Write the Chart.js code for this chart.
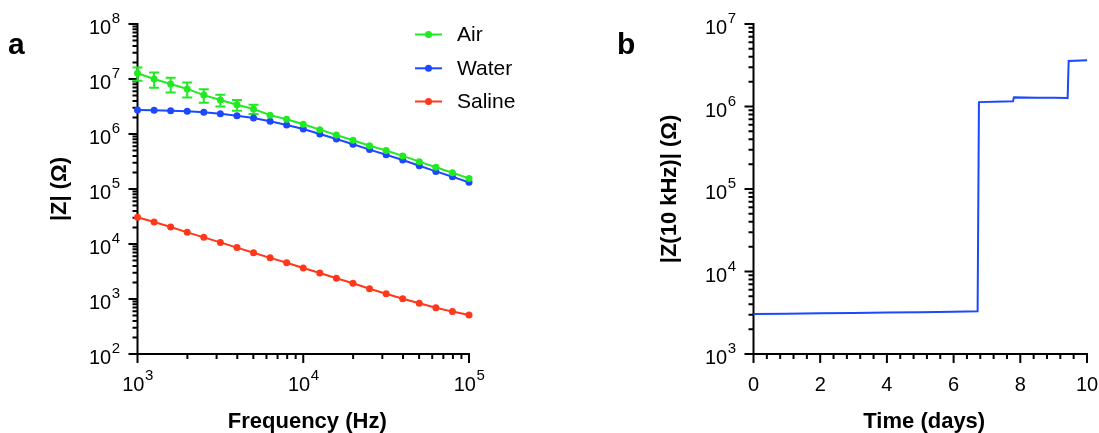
<!DOCTYPE html>
<html>
<head>
<meta charset="utf-8">
<script src="https://cdn.jsdelivr.net/npm/chart.js@4/dist/chart.umd.min.js"></script>
<style>
  body { margin: 0; background: #fff; }
  #wrap { position: relative; width: 1099px; height: 433px; }
  canvas { position: absolute; top: 0; }
  #chartA { left: 0; }
  #chartB { left: 560px; }
</style>
</head>
<body>
<div id="wrap">
  <canvas id="chartA" width="560" height="433"></canvas>
  <canvas id="chartB" width="539" height="433"></canvas>
</div>
<script>
// panel a - impedance spectra
var freq = [1000, 1259, 1585, 1995, 2512, 3162, 3981, 5012, 6310, 7943, 10000,
            12589, 15849, 19953, 25119, 31623, 39811, 50119, 63096, 79433, 100000];
var air = [1.27e7, 1.0e7, 8.1e6, 6.6e6, 5.1e6, 4.15e6, 3.4e6, 2.85e6, 2.2e6, 1.85e6, 1.5e6,
           1.2e6, 9.6e5, 7.7e5, 6.1e5, 5.0e5, 4.0e5, 3.14e5, 2.48e5, 1.98e5, 1.56e5];
var airSd = [3.4e6, 3.1e6, 2.4e6, 2.0e6, 1.4e6, 1.0e6, 7.5e5, 5.4e5, 2.2e5, 1.1e5, 8e4,
             6e4, 4e4, 3e4, 2e4, 1.5e4, 1.2e4, 9e3, 7e3, 5e3, 4e3];
var water = [2.73e6, 2.69e6, 2.65e6, 2.58e6, 2.48e6, 2.34e6, 2.15e6, 1.95e6, 1.70e6, 1.46e6, 1.23e6,
             1.0e6, 8.1e5, 6.5e5, 5.2e5, 4.2e5, 3.37e5, 2.65e5, 2.09e5, 1.67e5, 1.32e5];
var saline = [3.06e4, 2.51e4, 2.04e4, 1.63e4, 1.32e4, 1.07e4, 8.6e3, 6.95e3, 5.6e3, 4.57e3, 3.66e3,
              2.97e3, 2.38e3, 1.93e3, 1.54e3, 1.25e3, 1.01e3, 835, 695, 590, 510];
var freqTicks = [1e3, 1e4, 1e5];
var zTicks = [1e2, 1e3, 1e4, 1e5, 1e6, 1e7, 1e8];

// panel b - |Z| at 10 kHz over time
var days = [0, 1, 2, 3, 4, 5, 6, 6.72, 6.76, 7.2, 7.78, 7.81, 8.5, 9.0, 9.42, 9.45, 10];
var z10k = [3.05e3, 3.08e3, 3.12e3, 3.15e3, 3.18e3, 3.21e3, 3.25e3, 3.29e3, 1.13e6, 1.14e6, 1.16e6,
            1.29e6, 1.28e6, 1.28e6, 1.27e6, 3.56e6, 3.63e6];
var dayTicks = [0, 2, 4, 6, 8, 10];
var z10kTicks = [1e3, 1e4, 1e5, 1e6, 1e7];

var FONT = 'Arial, "Liberation Sans", sans-serif';
var GREEN = 'rgb(34,234,34)', BLUE = 'rgb(28,72,255)', RED = 'rgb(255,56,28)';

function pts(xs, ys) {
  var out = [];
  for (var i = 0; i < xs.length; i++) out.push({x: xs[i], y: ys[i]});
  return out;
}

function logMinor(ticks) {
  var out = [];
  for (var i = 0; i < ticks.length - 1; i++)
    for (var m = 2; m <= 9; m++) out.push(ticks[i] * m);
  return out;
}

// "10" with exponent; align 'center' or 'right'
function drawPow(ctx, exp, x, y, align) {
  ctx.font = '20px ' + FONT;
  var w1 = ctx.measureText('10').width;
  ctx.font = '15px ' + FONT;
  var w2 = ctx.measureText(exp).width;
  var x0 = align === 'right' ? x - w1 - w2 : x - (w1 + w2) / 2;
  ctx.textAlign = 'left';
  ctx.textBaseline = 'alphabetic';
  ctx.font = '20px ' + FONT;
  ctx.fillText('10', x0, y);
  ctx.font = '15px ' + FONT;
  ctx.fillText(exp, x0 + w1 + 0.5, y - 11);
}

var deco = {
  id: 'deco',
  beforeDatasetsDraw: function(chart, args, o) {
    var ctx = chart.ctx, a = chart.chartArea;
    var xs = chart.scales.x, ys = chart.scales.y;
    ctx.save();
    ctx.strokeStyle = '#000';
    ctx.fillStyle = '#000';
    ctx.lineWidth = 2;
    ctx.lineCap = 'square';
    ctx.beginPath();
    ctx.moveTo(a.left, a.top); ctx.lineTo(a.left, a.bottom); ctx.lineTo(a.right, a.bottom);
    ctx.stroke();
    ctx.lineCap = 'butt';
    ctx.beginPath();
    o.xMajor.forEach(function(v) {
      var px = xs.getPixelForValue(v);
      ctx.moveTo(px, a.bottom); ctx.lineTo(px, a.bottom + 9);
    });
    o.xMinor.forEach(function(v) {
      var px = xs.getPixelForValue(v);
      ctx.moveTo(px, a.bottom); ctx.lineTo(px, a.bottom + 5);
    });
    o.yMajor.forEach(function(v) {
      var py = ys.getPixelForValue(v);
      ctx.moveTo(a.left, py); ctx.lineTo(a.left - 9, py);
    });
    o.yMinor.forEach(function(v) {
      var py = ys.getPixelForValue(v);
      ctx.moveTo(a.left, py); ctx.lineTo(a.left - 5, py);
    });
    ctx.stroke();

    // tick labels
    o.xMajor.forEach(function(v) {
      var px = xs.getPixelForValue(v);
      if (o.xLog) {
        drawPow(ctx, String(Math.round(Math.log10(v))), px, a.bottom + 37, 'center');
      } else {
        ctx.font = '20px ' + FONT;
        ctx.textAlign = 'center';
        ctx.textBaseline = 'alphabetic';
        ctx.fillText(String(v), px, a.bottom + 37);
      }
    });
    o.yMajor.forEach(function(v) {
      var py = ys.getPixelForValue(v);
      drawPow(ctx, String(Math.round(Math.log10(v))), a.left - 18, py + 10, 'right');
    });

    // axis titles
    ctx.font = 'bold 22px ' + FONT;
    ctx.textAlign = 'center';
    ctx.textBaseline = 'alphabetic';
    ctx.fillText(o.xTitle, (a.left + a.right) / 2 + 4, 428);
    ctx.save();
    ctx.translate(o.yTitleX, (a.top + a.bottom) / 2);
    ctx.rotate(-Math.PI / 2);
    ctx.fillText(o.yTitle, 0, 0);
    ctx.restore();

    // panel letter
    ctx.font = 'bold 30px ' + FONT;
    ctx.textAlign = 'left';
    ctx.fillText(o.letter, o.letterX, 54);

    // error bars
    if (o.err) {
      var meta = chart.getDatasetMeta(o.err.dataset);
      var ds = chart.data.datasets[o.err.dataset];
      ctx.strokeStyle = ds.borderColor;
      ctx.lineWidth = 2;
      ctx.beginPath();
      for (var i = 0; i < o.err.sd.length; i++) {
        var p = ds.data[i];
        var px = xs.getPixelForValue(p.x);
        var hi = ys.getPixelForValue(p.y + o.err.sd[i]);
        var lo = ys.getPixelForValue(p.y - o.err.sd[i]);
        var c = ys.getPixelForValue(p.y);
        if (c - hi < 4.5 && lo - c < 4.5) continue;
        ctx.moveTo(px, hi); ctx.lineTo(px, lo);
        ctx.moveTo(px - 5, hi); ctx.lineTo(px + 5, hi);
        ctx.moveTo(px - 5, lo); ctx.lineTo(px + 5, lo);
      }
      ctx.stroke();
    }
    ctx.restore();
  },
  afterDraw: function(chart, args, o) {
    if (!o.legend) return;
    var ctx = chart.ctx;
    ctx.save();
    chart.data.datasets.forEach(function(ds, i) {
      var y = o.legend.y[i];
      ctx.strokeStyle = ds.borderColor;
      ctx.fillStyle = ds.borderColor;
      ctx.lineWidth = 2;
      ctx.beginPath();
      ctx.moveTo(415, y); ctx.lineTo(442, y);
      ctx.stroke();
      ctx.beginPath();
      ctx.arc(428.5, y, 3.5, 0, Math.PI * 2);
      ctx.fill();
      ctx.fillStyle = '#000';
      ctx.font = '21px ' + FONT;
      ctx.textAlign = 'left';
      ctx.textBaseline = 'middle';
      ctx.fillText(ds.label, 457, y + 1);
    });
    ctx.restore();
  }
};

function hiddenAxis(type, min, max, fit) {
  return {
    type: type, min: min, max: max, display: true,
    grid: { display: false, drawTicks: false },
    border: { display: false },
    ticks: { display: false },
    afterFit: fit
  };
}

function lineSet(label, ys, color) {
  return {
    label: label, data: pts(freq, ys),
    borderColor: color, backgroundColor: color,
    borderWidth: 2, pointRadius: 3.5, pointBorderWidth: 0,
    tension: 0, clip: false
  };
}

new Chart(document.getElementById('chartA'), {
  type: 'line',
  data: {
    datasets: [
      lineSet('Air', air, GREEN),
      lineSet('Water', water, BLUE),
      lineSet('Saline', saline, RED)
    ]
  },
  options: {
    responsive: false, animation: false, events: [],
    layout: { padding: { left: 0, top: 24, right: 91, bottom: 0 }, autoPadding: false },
    scales: {
      x: hiddenAxis('logarithmic', 1e3, 1e5, function(s) { s.height = 79; }),
      y: hiddenAxis('logarithmic', 1e2, 1e8, function(s) { s.width = 137.5; })
    },
    plugins: {
      legend: { display: false }, tooltip: { enabled: false },
      deco: {
        xLog: true, xMajor: freqTicks, xMinor: logMinor(freqTicks),
        yMajor: zTicks, yMinor: logMinor(zTicks),
        xTitle: 'Frequency (Hz)', yTitle: '|Z| (\u03A9)', yTitleX: 66,
        letter: 'a', letterX: 8,
        err: { dataset: 0, sd: airSd },
        legend: { y: [34.5, 68.3, 101.5] }
      }
    }
  },
  plugins: [deco]
});

new Chart(document.getElementById('chartB'), {
  type: 'line',
  data: {
    datasets: [{
      label: '|Z(10 kHz)|', data: pts(days, z10k),
      borderColor: BLUE, borderWidth: 2, pointRadius: 0, tension: 0, clip: false
    }]
  },
  options: {
    responsive: false, animation: false, events: [],
    layout: { padding: { left: 0, top: 24, right: 12, bottom: 0 }, autoPadding: false },
    scales: {
      x: hiddenAxis('linear', 0, 10, function(s) { s.height = 79; }),
      y: hiddenAxis('logarithmic', 1e3, 1e7, function(s) { s.width = 193.5; })
    },
    plugins: {
      legend: { display: false }, tooltip: { enabled: false },
      deco: {
        xLog: false, xMajor: dayTicks, xMinor: [0.4, 0.8, 1.2, 1.6, 2.4, 2.8, 3.2, 3.6, 4.4, 4.8, 5.2, 5.6,
                                                 6.4, 6.8, 7.2, 7.6, 8.4, 8.8, 9.2, 9.6],
        yMajor: z10kTicks, yMinor: logMinor(z10kTicks),
        xTitle: 'Time (days)', yTitle: '|Z(10 kHz)| (\u03A9)', yTitleX: 115.5,
        letter: 'b', letterX: 57
      }
    }
  },
  plugins: [deco]
});
</script>
</body>
</html>
